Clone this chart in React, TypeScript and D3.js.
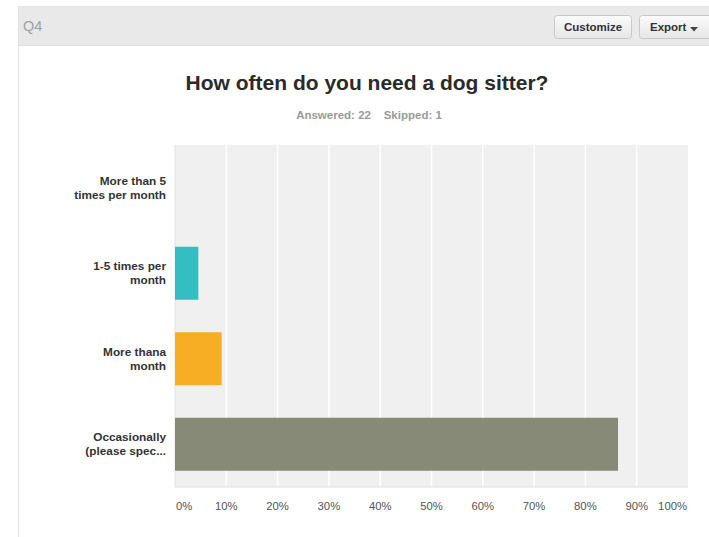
import React from "react";
import * as d3 from "d3";

const categories: string[][] = [
  ["More than 5", "times per month"],
  ["1-5 times per", "month"],
  ["More thana", "month"],
  ["Occasionally", "(please spec..."],
];
const values: number[] = [0, 4.55, 9.09, 86.36];
const colors: string[] = ["#5a9bd5", "#35bec1", "#f7ae24", "#878a77"];
const tickValues: number[] = [0, 10, 20, 30, 40, 50, 60, 70, 80, 90, 100];

const W = 709;
const H = 537;
const plot = { left: 175, right: 688, top: 145, bottom: 487 };
const FONT = "Helvetica, Arial, 'Liberation Sans', sans-serif";

export default function App() {
  const x = d3.scaleLinear().domain([0, 100]).range([plot.left, plot.right]);
  const y = d3
    .scaleBand<number>()
    .domain(d3.range(categories.length))
    .range([plot.top, plot.bottom])
    .paddingInner(0.38)
    .paddingOuter(0.19);

  return (
    <svg
      width={W}
      height={H}
      style={{ position: "absolute", left: 0, top: 0, fontFamily: FONT }}
    >
      <defs>
        <linearGradient id="btn" x1="0" y1="0" x2="0" y2="1">
          <stop offset="0" stopColor="#fbfbfb" />
          <stop offset="1" stopColor="#e6e6e6" />
        </linearGradient>
      </defs>
      <rect x={0} y={0} width={W} height={H} fill="#fff" />
      {/* panel */}
      <rect x={18.5} y={6.5} width={W} height={H} fill="#fff" stroke="#e3e3e3" />
      <rect x={19} y={7} width={W} height={38} fill="#e9e9e9" />
      <line x1={19} x2={W} y1={45.5} y2={45.5} stroke="#dcdcdc" />
      <text x={23} y={31} fontSize={14.5} fill="#a0a0a0">
        Q4
      </text>
      <rect x={554.5} y={15.5} width={77} height={23} rx={3} fill="url(#btn)" stroke="#c8c8c8" />
      <text x={593} y={31} fontSize={11.5} fontWeight="bold" fill="#333" textAnchor="middle">
        Customize
      </text>
      <rect x={639.5} y={15.5} width={75} height={23} rx={3} fill="url(#btn)" stroke="#c8c8c8" />
      <text x={650} y={31} fontSize={11.5} fontWeight="bold" fill="#333">
        Export
      </text>
      <path d="M690,27 L698,27 L694,31.5 Z" fill="#444" />

      {/* titles */}
      <text x={367} y={90} fontSize={21} fontWeight="bold" fill="#2a2a2a" textAnchor="middle">
        How often do you need a dog sitter?
      </text>
      <text x={369} y={119} fontSize={11.5} fontWeight="bold" fill="#9a9a9a" textAnchor="middle">
        {"Answered: 22\u00a0\u00a0\u00a0\u00a0Skipped: 1"}
      </text>

      {/* plot area */}
      <rect
        x={plot.left}
        y={plot.top}
        width={plot.right - plot.left}
        height={plot.bottom - plot.top}
        fill="#f0f0f0"
      />
      {tickValues.slice(1, -1).map((t) => (
        <line
          key={t}
          x1={x(t)}
          x2={x(t)}
          y1={plot.top}
          y2={plot.bottom}
          stroke="#ffffff"
          strokeWidth={1.5}
        />
      ))}
      <line x1={plot.left} x2={plot.left} y1={plot.top} y2={plot.bottom} stroke="#e2e2e2" />
      <line x1={plot.left} x2={plot.right} y1={plot.bottom} y2={plot.bottom} stroke="#dedede" />

      {values.map((v, i) => (
        <rect
          key={i}
          x={x(0)}
          y={y(i)}
          width={Math.max(0, x(v) - x(0))}
          height={y.bandwidth()}
          fill={colors[i]}
        />
      ))}

      {categories.map((lines, i) => {
        const cy = (y(i) as number) + y.bandwidth() / 2;
        return (
          <text
            key={i}
            x={166}
            y={cy - 7 + 4}
            fontSize={11.8}
            fontWeight="bold"
            fill="#333"
            textAnchor="end"
          >
            {lines.map((l, j) => (
              <tspan key={j} x={166} dy={j === 0 ? 0 : 14}>
                {l}
              </tspan>
            ))}
          </text>
        );
      })}

      {tickValues.map((t, i) => {
        const anchor = i === 0 ? "start" : i === tickValues.length - 1 ? "end" : "middle";
        const tx = i === 0 ? x(t) + 1 : i === tickValues.length - 1 ? x(t) - 1 : x(t);
        return (
          <text key={t} x={tx} y={510} fontSize={11.3} fill="#555" textAnchor={anchor}>
            {`${t}%`}
          </text>
        );
      })}
    </svg>
  );
}
